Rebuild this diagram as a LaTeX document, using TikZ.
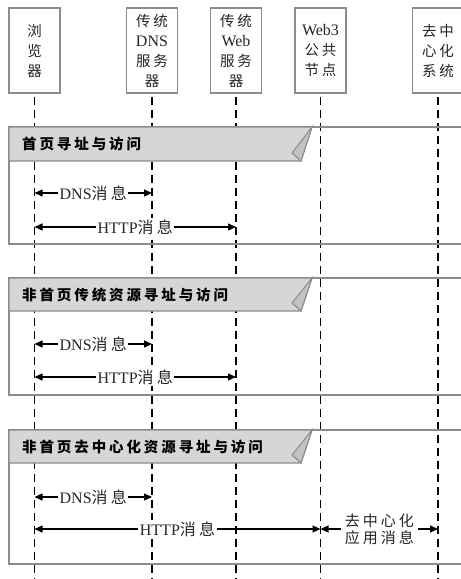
\documentclass[tikz,border=0pt]{standalone}
\usepackage{fontspec}
\setmainfont{Liberation Serif}
\newfontfamily\cjk[LetterSpace=20]{Noto Sans CJK SC}
\usetikzlibrary{arrows.meta}
\definecolor{framegray}{HTML}{8C8C8C}
\definecolor{tabfill}{HTML}{D6D6D6}
\definecolor{foldfill}{HTML}{C2C2C2}
\definecolor{txtgray}{HTML}{262626}
\tikzset{
  hbox/.style={draw=framegray, line width=1.2pt, fill=white, minimum width=51pt, minimum height=85pt,
    inner sep=0pt, align=center, font=\fontsize{14.5}{20}\selectfont, text=txtgray},
  life/.style={line width=1.25pt, dash pattern=on 8pt off 5pt},
  frm/.style={draw=framegray, line width=1.2pt},
  msg/.style={line width=1.2pt, {Triangle[length=8pt,width=7pt]}-{Triangle[length=8pt,width=7pt]}},
  lbl/.style={fill=white, inner sep=1.5pt, font=\fontsize{16}{18}\selectfont, text=txtgray, align=center},
  ttl/.style={anchor=west, inner sep=0pt, font=\fontsize{14.5}{18}\selectfont\bfseries, text=black}
}
\begin{document}
\begin{tikzpicture}[x=1pt,y=-1pt]
\useasboundingbox (0,0) rectangle (461,579);
\fill[white] (0,0) rectangle (461,579);

% header boxes
\node[hbox] (b1) at (34.5,50.5) {{\cjk 浏}\\{\cjk 览}\\{\cjk 器}};
\node[hbox] (b2) at (152,50.5) {{\cjk 传统}\\{\fontsize{16}{20}\selectfont DNS}\\{\cjk 服务}\\{\cjk 器}};
\node[hbox] (b3) at (236,50.5) {{\cjk 传统}\\{\fontsize{16}{20}\selectfont Web}\\{\cjk 服务}\\{\cjk 器}};
\node[hbox] (b4) at (320.5,50.5) {{\fontsize{16}{20}\selectfont Web3}\\{\cjk 公共}\\{\cjk 节点}};
\node[hbox] (b5) at (438,50.5) {{\cjk 去中}\\{\cjk 心化}\\{\cjk 系统}};

% lifeline ends
\foreach \i in {1,...,5} {
  \coordinate (e\i) at (b\i.south |- 0,579);
  \draw[life] ([yshift=-3pt]b\i.south) -- (e\i);
}

% frames
\foreach \T/\H/\B in {127/161/244, 278/311/395, 430/463/564} {
  \draw[frm] (9,\T) rectangle (480,\B);
  \filldraw[frm, fill=tabfill] (9,\T) -- (312,\T) -- (301,\H) -- (9,\H) -- cycle;
  \filldraw[draw=framegray, line width=1pt, fill=foldfill] (292,\H-8) -- (312,\T) -- (301,\H) -- cycle;
}
\node[ttl] (t1) at (22,144) {\cjk 首页寻址与访问};
\node[ttl] (t2) at (22,295) {\cjk 非首页传统资源寻址与访问};
\node[ttl] (t3) at (22,447) {\cjk 非首页去中心化资源寻址与访问};

% frame 1 messages
\draw[msg] (b1 |- 0,193) -- node[lbl] (m1) {DNS{\cjk 消息}} (b2 |- 0,193);
\draw[msg] (b1 |- 0,227) -- node[lbl] (m2) {HTTP{\cjk 消息}} (b3 |- 0,227);
% frame 2
\draw[msg] (b1 |- 0,344) -- node[lbl] (m3) {DNS{\cjk 消息}} (b2 |- 0,344);
\draw[msg] (b1 |- 0,377) -- node[lbl] (m4) {HTTP{\cjk 消息}} (b3 |- 0,377);
% frame 3
\draw[msg] (b1 |- 0,497) -- node[lbl] (m5) {DNS{\cjk 消息}} (b2 |- 0,497);
\draw[msg] (b1 |- 0,529) -- node[lbl] (m6) {HTTP{\cjk 消息}} (b4 |- 0,529);
\draw[msg] (b4 |- 0,529) -- node[lbl, inner xsep=4pt, font=\fontsize{15}{17}\selectfont] (m7) {{\cjk 去中心化}\\{\cjk 应用消息}} (b5 |- 0,529);
\end{tikzpicture}
\end{document}
